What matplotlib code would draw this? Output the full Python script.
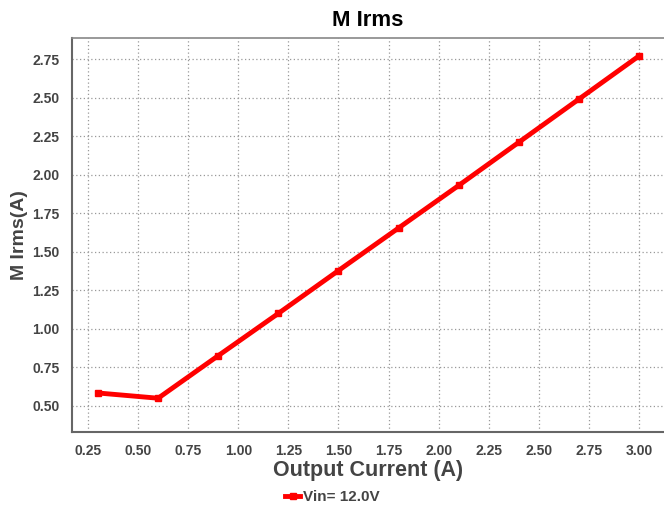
import matplotlib
matplotlib.use("Agg")
import matplotlib.pyplot as plt

current = [0.3, 0.6, 0.9, 1.2, 1.5, 1.8, 2.1, 2.4, 2.7, 3.0]
irms = [0.584, 0.55, 0.826, 1.10, 1.378, 1.654, 1.93, 2.21, 2.49, 2.77]
xticks = [0.25, 0.5, 0.75, 1.0, 1.25, 1.5, 1.75, 2.0, 2.25, 2.5, 2.75, 3.0]
yticks = [0.5, 0.75, 1.0, 1.25, 1.5, 1.75, 2.0, 2.25, 2.5, 2.75]

plt.rcParams['font.family'] = ['Liberation Sans', 'DejaVu Sans']

fig = plt.figure(figsize=(6.64, 5.15), dpi=100)
ax = fig.add_axes([0.1084, 0.1612, 0.8916, 0.7648])

ax.plot(current, irms, color='#ff0000', linewidth=3.5, marker='s', markersize=5,
        label='Vin= 12.0V')

ax.set_xlim(0.17, 3.125)
ax.set_ylim(0.331, 2.886)
ax.set_xticks(xticks)
ax.set_yticks(yticks)
ax.set_xticklabels([f'{v:.2f}' for v in xticks])
ax.set_yticklabels([f'{v:.2f}' for v in yticks])
ax.tick_params(length=0, labelsize=10, labelcolor='#444444')
ax.tick_params(axis='x', pad=9)
ax.tick_params(axis='y', pad=9)
for lab in ax.get_xticklabels() + ax.get_yticklabels():
    lab.set_fontweight('bold')

ax.grid(True, linestyle=(0, (1, 2)), color='#999999', linewidth=0.9)
ax.set_axisbelow(True)

for side in ['left', 'bottom']:
    ax.spines[side].set_color('#666666')
    ax.spines[side].set_linewidth(1.5)
ax.spines['top'].set_color('#888888')
ax.spines['top'].set_linewidth(1.2)
ax.spines['right'].set_visible(False)

ax.set_title('M Irms', fontsize=16, fontweight='bold', color='black', pad=9)
ax.set_xlabel('Output Current (A)', fontsize=15.5, fontweight='bold', color='#444444', labelpad=1)
ax.set_ylabel('M Irms(A)', fontsize=14, fontweight='bold', color='#444444')
ax.yaxis.set_label_coords(-0.075, 0.5)

leg = ax.legend(loc='center', bbox_to_anchor=(0.44, -0.165), frameon=False,
                handlelength=1.0, handletextpad=0.2,
                prop={'weight': 'bold', 'size': 11})
for t in leg.get_texts():
    t.set_color('#444444')

fig.savefig('out.png', dpi=100)
